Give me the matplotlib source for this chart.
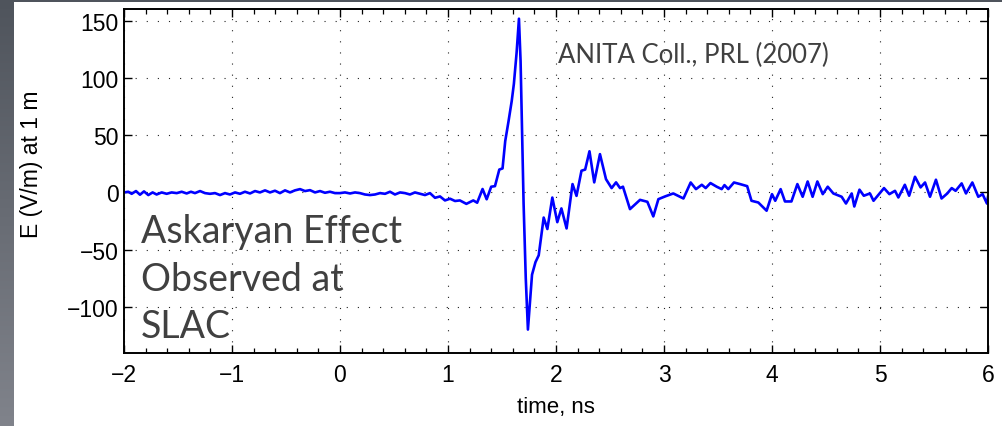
import numpy as np
import matplotlib
matplotlib.use("Agg")
from matplotlib import pyplot as plt
from matplotlib.colors import LinearSegmentedColormap
from matplotlib.ticker import MultipleLocator

# pulse: time in ns, field in V/m at 1 m
time_ns = [
    -2.000, -1.960, -1.929, -1.889, -1.852, -1.815, -1.775, -1.735, -1.698, -1.651,
    -1.605, -1.559, -1.512, -1.466, -1.420, -1.380, -1.343, -1.296, -1.250, -1.204,
    -1.157, -1.111, -1.065, -1.019, -0.972, -0.926, -0.880, -0.833, -0.787, -0.741,
    -0.694, -0.648, -0.602, -0.556, -0.509, -0.463, -0.417, -0.370, -0.324, -0.278,
    -0.231, -0.185, -0.139, -0.093, -0.046, 0.000, 0.046, 0.093, 0.139, 0.185,
    0.231, 0.278, 0.324, 0.370, 0.417, 0.463, 0.509, 0.556, 0.602, 0.648,
    0.694, 0.741, 0.787, 0.833, 0.880, 0.926, 0.972, 1.019, 1.065, 1.110,
    1.170, 1.234, 1.270, 1.320, 1.358, 1.400, 1.435, 1.475, 1.505, 1.530,
    1.560, 1.590, 1.610, 1.635, 1.657, 1.672, 1.700, 1.720, 1.740, 1.760,
    1.778, 1.810, 1.840, 1.886, 1.920, 1.966, 2.012, 2.050, 2.098, 2.153,
    2.190, 2.236, 2.270, 2.310, 2.354, 2.407, 2.463, 2.515, 2.556, 2.593,
    2.620, 2.685, 2.778, 2.846, 2.901, 2.948, 3.010, 3.086, 3.180, 3.247,
    3.296, 3.350, 3.386, 3.430, 3.488, 3.534, 3.560, 3.595, 3.648, 3.704,
    3.770, 3.810, 3.873, 3.950, 4.000, 4.030, 4.080, 4.120, 4.180, 4.235,
    4.284, 4.330, 4.376, 4.420, 4.470, 4.516, 4.568, 4.645, 4.685, 4.738,
    4.762, 4.810, 4.850, 4.907, 4.940, 5.037, 5.087, 5.139, 5.170, 5.230,
    5.270, 5.324, 5.376, 5.417, 5.463, 5.518, 5.570, 5.623, 5.664, 5.700,
    5.756, 5.796, 5.855, 5.910, 5.950, 5.990, 6.000,
]
field_vm = [
    0.0, 0.6, -1.2, 1.2, -2.0, 0.9, -2.3, 0.0, -1.8, 0.0,
    -1.2, 0.0, -0.6, 0.6, -0.9, 0.6, -0.6, 1.2, -0.6, -1.2,
    -0.6, -2.3, -0.6, -1.8, 0.0, -1.2, 0.6, -0.9, 1.2, 0.0,
    1.8, 0.0, 1.5, -0.6, 1.8, 0.0, 1.8, 2.9, 1.2, 2.0,
    0.0, 1.2, -0.3, 0.6, -0.6, -0.6, 0.0, -0.9, 0.0, -0.6,
    -1.8, -2.3, -1.8, -0.6, -1.2, 0.6, -1.8, 0.0, -0.6, -1.8,
    0.0, -1.2, -2.3, -0.6, -4.7, -3.5, -7.0, -5.5, -7.5, -7.0,
    -10.0, -7.0, -9.0, 3.0, -6.0, 5.0, 5.5, 20.0, 21.0, 45.0,
    62.0, 80.0, 95.0, 122.0, 152.0, 115.0, -10.0, -75.0, -120.0, -95.0,
    -72.0, -61.0, -55.0, -22.0, -32.0, -4.5, -26.0, -14.0, -31.5, 7.3,
    -3.0, 19.0, 20.0, 36.0, 8.8, 33.5, 11.6, 3.8, 8.8, 3.8,
    5.0, -14.6, -6.5, -8.2, -21.0, -5.9, -3.5, -0.9, -5.3, 8.7,
    2.9, 6.7, 3.8, 8.2, 5.0, 2.9, 6.4, 2.9, 8.7, 7.3,
    5.5, -7.3, -8.8, -16.0, -1.5, -7.3, 2.9, -7.9, -7.9, 7.3,
    -3.8, 9.6, -3.8, 9.6, -1.5, 5.0, -0.9, -3.8, -9.7, -0.9,
    -12.3, 2.4, -2.9, -0.9, -7.3, 3.8, -1.5, 1.4, -4.4, 6.7,
    -2.9, 13.7, 4.4, 8.7, -3.8, 11.1, -5.3, -0.9, 3.8, 1.4,
    7.9, -0.9, 8.7, -3.8, -1.5, -9.7, -3.8,
]

x_ticks = [-2, -1, 0, 1, 2, 3, 4, 5, 6]
y_ticks = [-100, -50, 0, 50, 100, 150]
x_label = "time, ns"
y_label = "E (V/m) at 1 m"
ref_text = "ANITA Coll., PRL (2007)"
title_lines = ["Askaryan Effect", "Observed at", "SLAC"]

W, H = 1003, 427
fig = plt.figure(figsize=(W / 100, H / 100), dpi=100, facecolor="white")

# slide background: dark strip on the left (gradient) and on top
strip = fig.add_axes([0, 0, 14 / W, 1])
grad = np.linspace(0, 1, 256).reshape(-1, 1)
cmap = LinearSegmentedColormap.from_list("slide", ["#4f545c", "#80838b"])
strip.imshow(grad, aspect="auto", cmap=cmap, origin="upper")
strip.set_axis_off()
topbar = fig.add_axes([0, 1 - 3 / H, 1, 3 / H])
topbar.set_axis_off()
topbar.add_patch(plt.Rectangle((0, 0), 1, 1, color="#4f545c", transform=topbar.transAxes))

ax = fig.add_axes([124 / W, (H - 354) / H, 864 / W, 344 / H])
ax.plot(time_ns, field_vm, color="#0000ff", lw=1.9, solid_joinstyle="round")

ax.set_xlim(-2, 6)
ax.set_ylim(-140.5, 160.5)
ax.set_xticks(x_ticks)
ax.set_yticks(y_ticks)
ax.xaxis.set_minor_locator(MultipleLocator(0.2))

tick_font = "Liberation Sans"
ax.set_xticklabels([f"{v:d}".replace("-", "\u2212") for v in x_ticks], family=tick_font, fontsize=16.5)
ax.set_yticklabels([f"{v:d}".replace("-", "\u2212") for v in y_ticks], family=tick_font, fontsize=16.5)
ax.tick_params(which="both", direction="in", top=True, right=True, color="black")
ax.tick_params(which="major", length=6, width=1.0)
ax.tick_params(which="minor", length=3.5, width=0.9)
ax.tick_params(axis="x", which="major", pad=7)
ax.tick_params(axis="y", which="major", pad=4)
ax.tick_params(axis="y", which="minor", left=False, right=False)

for s in ax.spines.values():
    s.set_linewidth(1.4)

ax.grid(True, which="major", color="#222222", linestyle=(0, (1, 9)), linewidth=0.8)

ax.set_xlabel(x_label, family=tick_font, fontsize=16)
ax.set_ylabel(y_label, family=tick_font, fontsize=16.5)
ax.xaxis.set_label_coords(0.5, -0.125)
ax.yaxis.set_label_coords(-0.094, 0.552)

txt_font = ["Lato", "DejaVu Sans"]
ax.text(0.502, 0.847, ref_text, transform=ax.transAxes, family=txt_font,
        fontsize=18.5, color="#404040", va="baseline", ha="left")
baselines = [0.3227, 0.184, 0.0465]
for line, yb in zip(title_lines, baselines):
    ax.text(0.0197, yb, line, transform=ax.transAxes, family=txt_font,
            fontsize=27, color="#404040", va="baseline", ha="left")

fig.savefig("out.png", dpi=100, facecolor="white")
